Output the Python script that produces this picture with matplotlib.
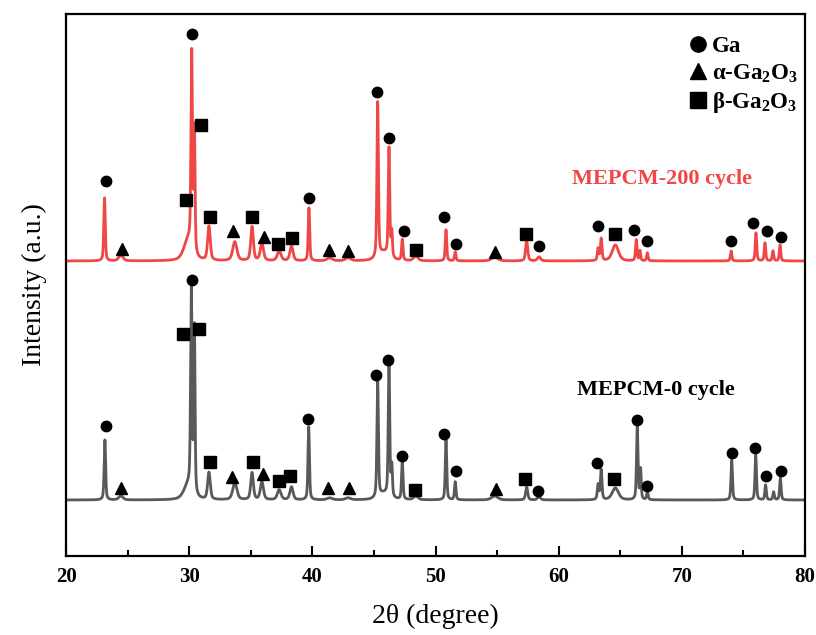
import numpy as np
import matplotlib
matplotlib.use("Agg")
from matplotlib import pyplot as plt
from matplotlib.lines import Line2D

# fonts -----
plt.rcParams["font.family"] = ["Liberation Serif", "DejaVu Serif"]
plt.rcParams["mathtext.fontset"] = "custom"
plt.rcParams["mathtext.rm"] = "Liberation Serif:bold"
plt.rcParams["mathtext.bf"] = "Liberation Serif:bold"

# peak list, MEPCM-0 cycle (2theta, height, fwhm) -----
pos_0 = [23.15, 24.45, 29.9, 30.17, 30.42, 31.6, 33.7, 35.1, 35.9, 37.3, 38.3,
         39.7, 41.4, 42.9, 45.3, 45.8, 46.22, 46.45, 47.3, 48.4, 50.85, 51.6,
         54.8, 57.4, 58.4, 63.2, 63.45, 64.6, 66.38, 66.65, 67.2, 74.05, 76.0,
         76.8, 77.45, 78.0]
height_0 = [60, 4, 14, 200, 165, 27, 17, 27, 18, 10, 13, 73, 2, 2, 118, 6, 135,
            30, 38, 4, 60, 18, 4, 13, 3, 15, 30, 12, 73, 30, 8, 40, 45, 15, 8, 22]
fwhm_0 = [0.14, 0.4, 0.8, 0.14, 0.12, 0.25, 0.4, 0.25, 0.3, 0.35, 0.3, 0.14, 0.5,
          0.5, 0.14, 1.0, 0.14, 0.12, 0.14, 0.4, 0.14, 0.14, 0.6, 0.2, 0.3, 0.15,
          0.15, 0.6, 0.14, 0.12, 0.14, 0.14, 0.14, 0.14, 0.14, 0.14]

# peak list, MEPCM-200 cycle -----
pos_200 = [23.12, 24.45, 29.9, 30.2, 30.42, 31.6, 33.7, 35.1, 35.9, 37.3, 38.3,
           39.72, 41.4, 42.9, 45.3, 45.8, 46.22, 46.45, 47.3, 48.4, 50.85, 51.6,
           54.8, 57.4, 58.4, 63.2, 63.45, 64.6, 66.3, 66.6, 67.2, 74.0, 76.02,
           76.75, 77.4, 77.97]
height_200 = [63, 6, 20, 195, 122, 34, 19, 34, 18, 10, 15, 53, 3, 3, 155, 8, 108,
              25, 21, 5, 31, 9, 4, 21, 4, 12, 22, 16, 21, 10, 8, 10, 28, 18, 10, 16]
fwhm_200 = fwhm_0

# phase markers, height above each baseline -----
ga_x_0 = [23.22, 30.2, 39.65, 45.14, 46.17, 47.25, 50.66, 51.66, 58.35, 63.08,
          66.38, 67.15, 74.05, 75.94, 76.86, 78.02]
ga_y_0 = [74, 220, 81, 125, 140, 44, 66, 29, 9, 37, 80, 14, 47, 52, 24, 29]
alpha_x_0 = [24.47, 33.5, 35.99, 41.3, 43.0, 54.88]
alpha_y_0 = [12, 23, 26, 12, 12, 11]
beta_x_0 = [29.5, 30.8, 31.69, 35.18, 37.29, 38.19, 48.36, 57.27, 64.52]
beta_y_0 = [166, 171, 38, 38, 19, 24, 10, 21, 21]

ga_x_200 = [23.25, 30.25, 39.76, 45.22, 46.22, 47.42, 50.66, 51.66, 58.43, 63.17,
            66.14, 67.17, 73.99, 75.8, 76.89, 78.02]
ga_y_200 = [80, 227, 63, 169, 123, 30, 44, 17, 15, 35, 31, 20, 20, 38, 30, 24]
alpha_x_200 = [24.57, 33.59, 36.05, 41.36, 42.93, 54.83]
alpha_y_200 = [12, 30, 24, 11, 10, 9]
beta_x_200 = [29.71, 30.93, 31.66, 35.1, 37.21, 38.32, 48.39, 57.35, 64.57]
beta_y_200 = [61, 136, 44, 44, 17, 23, 11, 27, 27]

offset_0 = 56
offset_200 = 295
red = "#ef4646"
gray = "#595959"


def pattern(x, pos, height, fwhm, eta=0.5):
    """sum of pseudo-Voigt peaks"""
    y = np.zeros_like(x)
    for p, h, w in zip(pos, height, fwhm):
        hw = w / 2
        lor = hw ** 2 / ((x - p) ** 2 + hw ** 2)
        gau = np.exp(-np.log(2) * ((x - p) / hw) ** 2)
        y += h * (eta * lor + (1 - eta) * gau)
    return y


two_theta = np.linspace(20, 80, 6001)
y_0 = pattern(two_theta, pos_0, height_0, fwhm_0)
y_200 = pattern(two_theta, pos_200, height_200, fwhm_200)

fig = plt.figure(figsize=(8.16, 6.35), dpi=100)
ax = fig.add_axes([0.081, 0.1244, 0.9055, 0.8536])

ax.plot(two_theta, y_0 + offset_0, color=gray, lw=2.0)
ax.plot(two_theta, y_200 + offset_200, color=red, lw=2.0)

# phase markers ----
for off, gx, gy, ax_, ay, bx, by in [
        (offset_0, ga_x_0, ga_y_0, alpha_x_0, alpha_y_0, beta_x_0, beta_y_0),
        (offset_200, ga_x_200, ga_y_200, alpha_x_200, alpha_y_200, beta_x_200, beta_y_200)]:
    ax.plot(gx, np.array(gy) + off, "o", color="k", ms=7.5, ls="none")
    ax.plot(ax_, np.array(ay) + off, "^", color="k", ms=8.5, ls="none")
    ax.plot(bx, np.array(by) + off, "s", color="k", ms=8, ls="none")

ax.text(61.05, offset_200 + 82, "MEPCM-200 cycle", color=red, fontsize=16,
        fontweight="bold", ha="left", va="center")
ax.text(61.45, offset_0 + 110, "MEPCM-0 cycle", color="k", fontsize=16,
        fontweight="bold", ha="left", va="center")

# legend ----
handles = [Line2D([], [], marker="o", color="k", ls="none", ms=11),
           Line2D([], [], marker="^", color="k", ls="none", ms=11),
           Line2D([], [], marker="s", color="k", ls="none", ms=11)]
labels = ["Ga", r"α-Ga$_2$O$_3$", r"β-Ga$_2$O$_3$"]
ax.legend(handles, labels, loc="upper right", bbox_to_anchor=(1.003, 0.976),
          frameon=False, prop={"weight": "bold", "size": 16.5},
          handlelength=0.7, handletextpad=0.25, labelspacing=0.22,
          borderaxespad=0.0)

ax.set_xlim(20, 80)
ax.set_ylim(0, 542)
ax.set_xticks(np.arange(20, 81, 10))
ax.set_xticks(np.arange(25, 80, 10), minor=True)
ax.set_yticks([])
ax.tick_params(axis="x", which="major", direction="in", length=7, width=1.5,
               pad=8, labelsize=15)
ax.tick_params(axis="x", which="minor", direction="in", length=4, width=1.5)
for lab in ax.get_xticklabels():
    lab.set_fontweight("bold")
for spine in ax.spines.values():
    spine.set_linewidth(1.6)

ax.set_xlabel("2θ (degree)", fontsize=20, labelpad=12)
ax.set_ylabel("Intensity (a.u.)", fontsize=20, labelpad=14)

fig.savefig("out.png", dpi=100)
